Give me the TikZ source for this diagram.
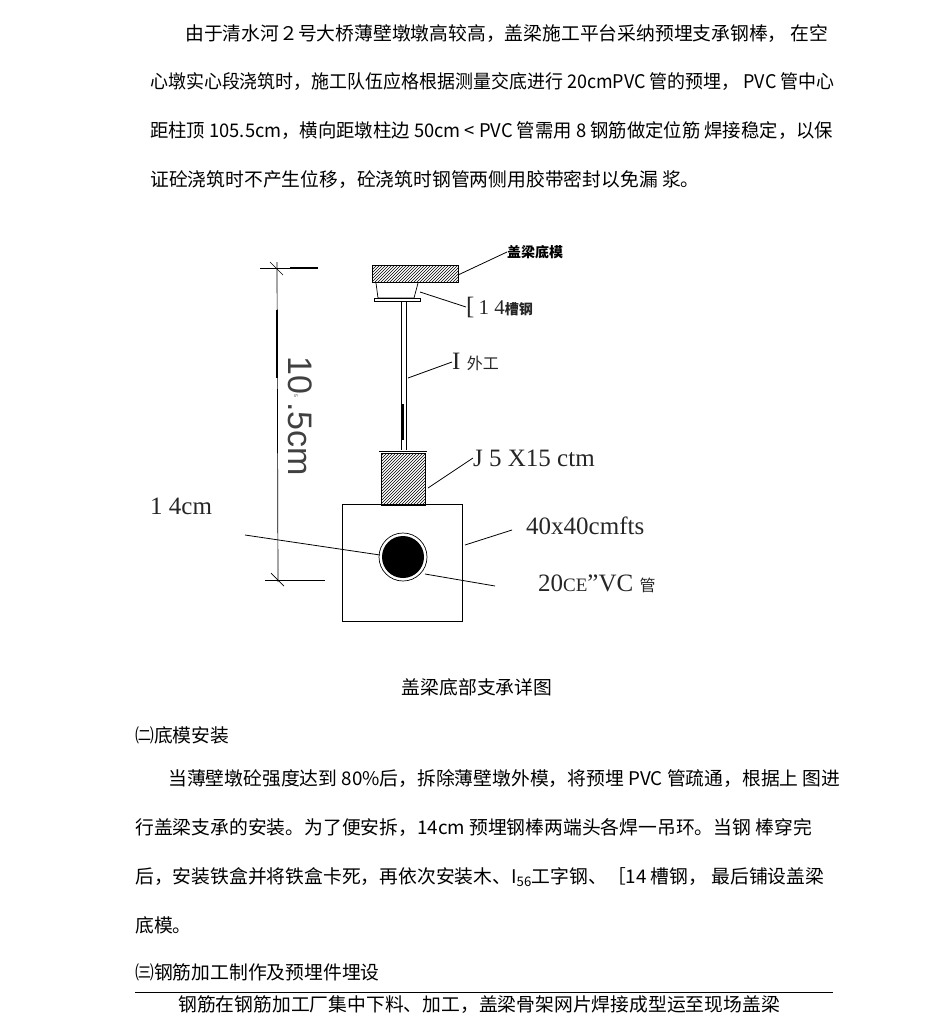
\documentclass[tikz,border=0pt]{standalone}
\usepackage{fontspec}
\setmainfont{Liberation Serif}
\newfontfamily\cjk{Noto Sans CJK SC}
\newfontfamily\dimfont{Liberation Sans}
\usetikzlibrary{patterns}
\tikzset{
  para/.style={anchor=west, inner sep=0pt, font=\cjk\fontsize{18.8}{18.8}\selectfont},
  lbl/.style={anchor=west, inner sep=0pt, font=\fontsize{25}{25}\selectfont, text=black!85},
  lead/.style={line width=0.8pt},
  thin/.style={line width=0.7pt}
}
\begin{document}
\begin{tikzpicture}[x=1pt,y=-1pt]
  \useasboundingbox (0,0) rectangle (950,1029);
  % first paragraph
  \node[para] (p1) at (185,34) {由于清水河２号大桥薄壁墩墩高较高，盖梁施工平台采纳预埋支承钢棒， 在空};
  \node[para] (p2) at (150,82) {\scalebox{0.955}[1]{心墩实心段浇筑时，施工队伍应格根据测量交底进行 20cmPVC 管的预埋， PVC 管中心}};
  \node[para] (p3) at (150,131) {\scalebox{0.976}[1]{距柱顶 105.5cm，横向距墩柱边 50cm < PVC 管需用 8 钢筋做定位筋 焊接稳定，以保}};
  \node[para] (p4) at (150,180) {证砼浇筑时不产生位移，砼浇筑时钢管两侧用胶带密封以免漏 浆。};
  % diagram
  \draw[thin] (260,268) -- (318,268);
  \draw[line width=2pt] (290,268) -- (318,268);
  \draw[thin] (277,262) -- (278,582);
  \draw[line width=1.5pt] (277,310) -- (277,378);
  \draw[thin] (265,580) -- (325,580);
  \draw[thin] (270,262) -- (283,275);
  \draw[thin] (271,573) -- (284,586);
  \node[anchor=north west, rotate=-90, inner sep=0pt, font=\dimfont\fontsize{34}{34}\selectfont, text=black!75] (dim) at (312,356) {10\raisebox{6pt}{\tiny 5}\,.5cm};
  \node[draw, thin, minimum width=86pt, minimum height=17pt, inner sep=0pt, pattern=north east lines] (plate) at (415,274) {};
  \draw[thin] (376,283) -- (378,298) -- (414,298) -- (418,283);
  \node[draw, thin, minimum width=46pt, minimum height=3pt, inner sep=0pt] (chan) at (397,300) {};
  \draw[thin] (401,302) -- (401,450) (406,302) -- (406,450);
  \draw[line width=1.6pt] (403,404) -- (403,440);
  \draw[thin] (379,451) -- (427,451);
  \node[draw, thin, minimum width=44pt, minimum height=52pt, inner sep=0pt, pattern=north east lines] (block) at (403,479) {};
  \node[draw, thin, minimum width=120pt, minimum height=117pt, inner sep=0pt] (sq) at (402,563) {};
  \node[circle, draw, thin, minimum size=48pt, inner sep=0pt] (ring) at (403,557) {};
  \node[circle, fill=black, minimum size=42pt, inner sep=0pt] (pipe) at (403,557) {};
  % labels and leaders
  \node[anchor=west, inner sep=0pt, font=\cjk\bfseries\fontsize{14}{14}\selectfont] (t1) at (507,252) {盖梁底模};
  \draw[lead] (458,275) -- (t1.west);
  \node[lbl] (t2) at (466,307) {[\,{\fontsize{21}{21}\selectfont 1 4}{\cjk\bfseries\fontsize{14}{14}\selectfont 槽钢}};
  \draw[lead] (420,292) -- (t2.west);
  \node[lbl] (t3) at (452,362) {I {\cjk\fontsize{16}{16}\selectfont 外工}};
  \draw[lead] (408,378) -- (t3.west);
  \node[lbl] (t4) at (473,458) {J 5 X15 ctm};
  \draw[lead] (428,488) -- (t4.west);
  \node[lbl] (t5) at (526,526) {40x40cmfts};
  \draw[lead] (465,545) -- (512,530);
  \node[lbl] (t6) at (538,584) {20{\fontsize{19}{19}\selectfont CE}"VC {\cjk\fontsize{16}{16}\selectfont 管}};
  \draw[lead] (425,574) -- (495,586);
  \node[lbl] (t7) at (150,506) {1 4cm};
  \draw[lead] (245,535) -- (380,555);
  % caption and second part
  \node[anchor=center, inner sep=0pt, font=\cjk\fontsize{18.8}{18.8}\selectfont] (cap) at (477,687) {盖梁底部支承详图};
  \node[para] (h2) at (135,735) {㈡底模安装};
  \node[para] (q1) at (168,779) {当薄壁墩砼强度达到 80\%后，拆除薄壁墩外模，将预埋 PVC 管疏通，根据上 图进};
  \node[para] (q2) at (135,828) {行盖梁支承的安装。为了便安拆，14cm 预埋钢棒两端头各焊一吊环。当钢 棒穿完};
  \node[para] (q3) at (135,877) {后，安装铁盒并将铁盒卡死，再依次安装木、I\textsubscript{56}工字钢、［14 槽钢， 最后铺设盖梁};
  \node[para] (q4) at (135,925) {底模。};
  \node[para] (h3) at (135,972) {㈢钢筋加工制作及预埋件埋设};
  \draw[thin] (135,992) -- (833,992);
  \node[para] (q5) at (178,1005) {钢筋在钢筋加工厂集中下料、加工，盖梁骨架网片焊接成型运至现场盖梁};
\end{tikzpicture}
\end{document}
